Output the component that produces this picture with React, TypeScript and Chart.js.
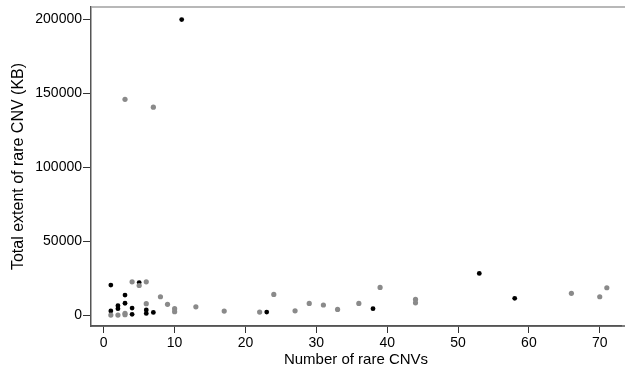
import React, { useEffect, useRef } from "react";
import { Chart, registerables } from "chart.js";

Chart.register(...registerables);

const blackX = [11, 1, 1, 2, 2, 3, 3, 4, 4, 5, 6, 6, 7, 23, 38, 53, 58];
const blackY = [200000, 20300, 2800, 6300, 4300, 13500, 8000, 4700, 500, 22000, 3500, 1100, 1800, 2000, 4300, 28200, 11300];

const grayX = [1, 2, 3, 3, 3, 4, 5, 6, 6, 7, 8, 9, 10, 10, 13, 17, 22, 24, 27, 29, 31, 33, 36, 39, 44, 44, 66, 70, 71];
const grayY = [0, 0, 146000, 1200, 200, 22500, 20000, 22500, 7700, 140700, 12400, 7300, 4300, 2300, 5600, 2700, 2000, 14000, 2900, 7900, 6800, 3800, 7900, 18700, 10600, 8300, 14700, 12400, 18500];

const xTicks = [0, 10, 20, 30, 40, 50, 60, 70];
const yTicks = [0, 50000, 100000, 150000, 200000];

const xTitle = "Number of rare CNVs";
const yTitle = "Total extent of rare CNV (KB)";

const FONT = "'Liberation Sans', Arial, sans-serif";

const framePlugin = {
  id: "frame",
  afterDraw(chart: any) {
    const { ctx, chartArea } = chart;
    ctx.save();
    ctx.strokeStyle = "#a0a0a0";
    ctx.lineWidth = 1.5;
    ctx.beginPath();
    ctx.moveTo(chartArea.left, chartArea.top);
    ctx.lineTo(625, chartArea.top);
    ctx.stroke();
    ctx.strokeStyle = "#555";
    ctx.beginPath();
    ctx.moveTo(chartArea.left, chartArea.bottom);
    ctx.lineTo(625, chartArea.bottom);
    ctx.stroke();
    ctx.restore();
  },
};

export default function App() {
  const ref = useRef<HTMLCanvasElement | null>(null);
  useEffect(() => {
    if (!ref.current) return;
    const toPts = (xs: number[], ys: number[]) => xs.map((x, i) => ({ x, y: ys[i] }));
    const chart = new Chart(ref.current, {
      type: "scatter",
      data: {
        datasets: [
          {
            data: toPts(grayX, grayY),
            backgroundColor: "#8a8a8a",
            borderWidth: 0,
            pointRadius: 2.6,
          },
          {
            data: toPts(blackX, blackY),
            backgroundColor: "#000000",
            borderWidth: 0,
            pointRadius: 2.4,
          },
        ],
      },
      options: {
        animation: false,
        responsive: false,
        maintainAspectRatio: false,
        layout: { padding: { top: 7, right: 0, left: 0, bottom: 0 } },
        plugins: { legend: { display: false }, tooltip: { enabled: false } },
        scales: {
          x: {
            type: "linear",
            min: -1.8,
            max: 73.0,
            afterBuildTicks: (s: any) => {
              s.ticks = xTicks.map((v) => ({ value: v }));
            },
            afterFit: (s: any) => {
              s.height = 46;
              s.paddingLeft = 0;
              s.paddingRight = 0;
            },
            grid: { drawOnChartArea: false, drawTicks: true, tickLength: 7, color: "#333" },
            border: { display: true, color: "#555", width: 1.5 },
            ticks: { color: "#000", font: { family: FONT, size: 14 }, padding: 2, maxRotation: 0 },
            title: { display: true, text: xTitle, color: "#000", font: { family: FONT, size: 15 }, padding: { top: 0, bottom: 3 } },
          },
          y: {
            type: "linear",
            min: -7400,
            max: 208500,
            afterBuildTicks: (s: any) => {
              s.ticks = yTicks.map((v) => ({ value: v }));
            },
            afterFit: (s: any) => {
              s.width = 91;
              s.paddingTop = 0;
              s.paddingBottom = 0;
            },
            grid: { drawOnChartArea: false, drawTicks: true, tickLength: 8, color: "#333" },
            border: { display: true, color: "#555", width: 1.5 },
            ticks: { color: "#000", font: { family: FONT, size: 14 }, padding: 1, callback: (v: any) => String(v) },
            title: { display: true, text: yTitle, color: "#000", font: { family: FONT, size: 16 }, padding: { top: 9, bottom: 0 } },
          },
        },
      },
      plugins: [framePlugin],
    });
    return () => chart.destroy();
  }, []);
  return (
    <div style={{ position: "fixed", left: 0, top: 0, width: 625, height: 372, background: "#fff" }}>
      <canvas ref={ref} width={625} height={372} style={{ width: 625, height: 372 }} />
    </div>
  );
}
